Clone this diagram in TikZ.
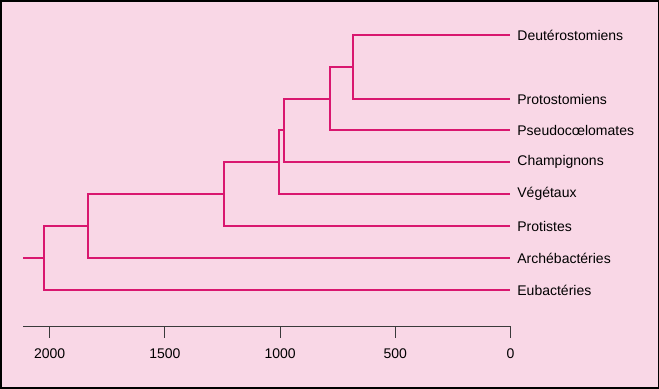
\documentclass[tikz,border=0pt]{standalone}
\usepackage{fontspec}
\setmainfont{Liberation Sans}
\usetikzlibrary{positioning,calc}
\definecolor{bgpink}{HTML}{F9D7E6}
\definecolor{branchc}{HTML}{D9176F}
\definecolor{axisc}{HTML}{3A3A3A}

\begin{document}
\begin{tikzpicture}[x=0.5pt,y=-0.5pt,
  branch/.style={draw=branchc,line width=1pt},
  leaf/.style={anchor=west,inner xsep=3.5pt,inner ysep=0pt,font=\fontsize{7}{8.4}\selectfont},
  tick/.style={draw=axisc,line width=0.5pt},
  ticklabel/.style={font=\fontsize{7}{8.4}\selectfont}]
\useasboundingbox (0,0) rectangle (659,388);
\draw[fill=bgpink,draw=black,line width=1pt] (0.5,0.5) rectangle (658.5,387.5);
\node[leaf] (deut) at (510,35) {Deutérostomiens};
\node[leaf] (prot) at (510,99) {Protostomiens};
\node[leaf] (pseudo) at (510,130) {Pseudocœlomates};
\node[leaf] (champ) at (510,162) {Champignons};
\node[leaf] (veget) at (510,194) {Végétaux};
\node[leaf] (protist) at (510,226) {Protistes};
\node[leaf] (archeo) at (510,258) {Archébactéries};
\node[leaf] (eubact) at (510,290) {Eubactéries};
\coordinate (bilat) at (353,67);
\coordinate (animal) at (329.5,98.5);
\coordinate (opist) at (283.7,130);
\coordinate (plurice) at (279,162);
\coordinate (eucar) at (223.7,194);
\coordinate (archeuc) at (88,226);
\coordinate (vivant) at (44,258);
\coordinate (racine) at (23,258);
\draw[branch] (bilat) |- (deut.west) (bilat) |- (prot.west);
\draw[branch] (animal) |- (bilat) (animal) |- (pseudo.west);
\draw[branch] (opist) |- (animal) (opist) |- (champ.west);
\draw[branch] (plurice) |- (opist) (plurice) |- (veget.west);
\draw[branch] (eucar) |- (plurice) (eucar) |- (protist.west);
\draw[branch] (archeuc) |- (eucar) (archeuc) |- (archeo.west);
\draw[branch] (vivant) |- (archeuc) (vivant) |- (eubact.west);
\draw[branch] (racine) -- (vivant);
\coordinate (axisl) at (23,326.5);
\coordinate (axisr) at (510.5,326.5);
\draw[tick] (axisl) -- (axisr);
\foreach \t in {0,500,1000,1500,2000}{
  \draw[tick] ($(axisr)+(-0.2304*\t,0)$) -- ++(0,11.5)
    node[ticklabel,below=2pt] (lab\t) {\t};
}
\end{tikzpicture}
\end{document}
